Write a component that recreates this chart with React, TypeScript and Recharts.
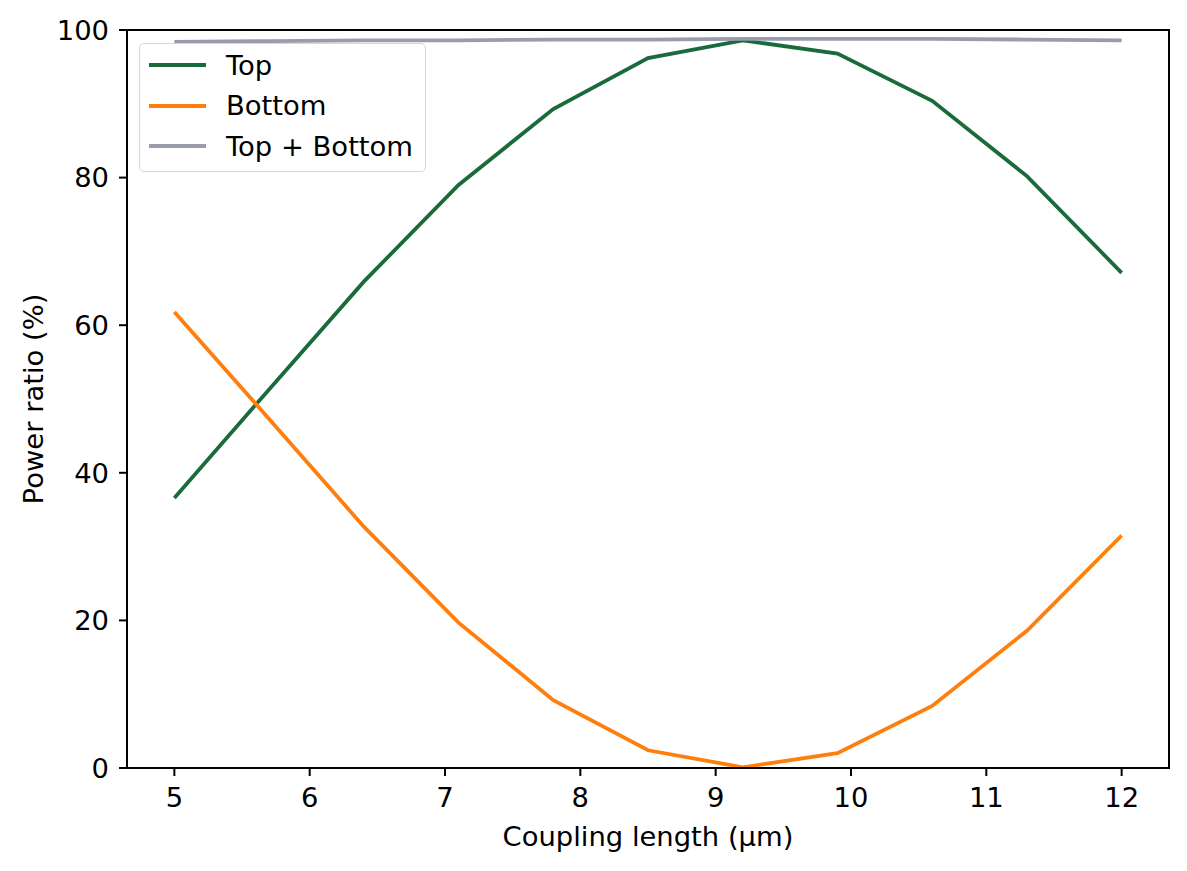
import { Legend, Line, LineChart, ReferenceArea, XAxis, YAxis } from "recharts";

const couplingLength = [5, 5.7, 6.4, 7.1, 7.8, 8.5, 9.2, 9.9, 10.6, 11.3, 12];
const topPower = [36.6, 51.3, 65.9, 79.0, 89.3, 96.2, 98.6, 96.8, 90.4, 80.2, 67.1];
const bottomPower = [61.8, 47.3, 32.7, 19.7, 9.2, 2.4, 0.1, 2.0, 8.4, 18.6, 31.5];
const sumPower = [98.4, 98.5, 98.6, 98.6, 98.7, 98.7, 98.8, 98.8, 98.8, 98.7, 98.6];
const xTicks = [5, 6, 7, 8, 9, 10, 11, 12];
const yTicks = [0, 20, 40, 60, 80, 100];
const xDomain = [4.65, 12.35];
const yDomain = [0, 100];

const data = couplingLength.map((x, i) => ({
  x,
  top: topPower[i],
  bottom: bottomPower[i],
  sum: sumPower[i],
}));

const FONT = "'DejaVu Sans', sans-serif";
const FONT_SIZE = 27.4;
const tickStyle = { fontSize: FONT_SIZE, fill: "#000", fontFamily: FONT };

const series = [
  { key: "top", name: "Top", color: "#1a6b3c" },
  { key: "bottom", name: "Bottom", color: "#ff7f0e" },
  { key: "sum", name: "Top + Bottom", color: "#999cab" },
];

function LegendBox() {
  return (
    <div
      style={{
        boxSizing: "border-box",
        width: 287,
        height: 129,
        border: "1.5px solid #d6d6d6",
        borderRadius: 5,
        background: "rgba(255,255,255,0.8)",
        fontFamily: FONT,
        fontSize: FONT_SIZE,
        paddingTop: 1,
      }}
    >
      {series.map((s) => (
        <div key={s.key} style={{ display: "flex", alignItems: "center", height: 40.5 }}>
          <div style={{ width: 57, height: 3.8, background: s.color, marginLeft: 9, marginRight: 20 }} />
          <span>{s.name}</span>
        </div>
      ))}
    </div>
  );
}

export default function App() {
  return (
    <div style={{ position: "absolute", left: 0, top: 0, background: "#fff" }}>
      <LineChart width={1187} height={871} data={data} margin={{ top: 30, right: 18, left: 0, bottom: 0 }}>
        <XAxis
          dataKey="x"
          type="number"
          domain={xDomain}
          ticks={xTicks}
          tickSize={8}
          tickMargin={12}
          tick={tickStyle}
          stroke="#000"
          strokeWidth={2}
          height={103}
          allowDataOverflow
          label={{
            value: "Coupling length (µm)",
            position: "insideBottom",
            offset: 25,
            style: { fontSize: FONT_SIZE, fill: "#000", fontFamily: FONT },
          }}
        />
        <YAxis
          type="number"
          domain={yDomain}
          ticks={yTicks}
          tickSize={8}
          tickMargin={10}
          tick={tickStyle}
          stroke="#000"
          strokeWidth={2}
          width={127}
          allowDataOverflow
          label={{
            value: "Power ratio (%)",
            angle: -90,
            position: "insideLeft",
            offset: 33,
            style: { fontSize: FONT_SIZE, fill: "#000", fontFamily: FONT, textAnchor: "middle" },
          }}
        />
        <ReferenceArea
          x1={xDomain[0]}
          x2={xDomain[1]}
          y1={yDomain[0]}
          y2={yDomain[1]}
          fill="none"
          stroke="#000"
          strokeWidth={2}
          ifOverflow="visible"
        />
        {series.map((s) => (
          <Line
            key={s.key}
            dataKey={s.key}
            name={s.name}
            type="linear"
            stroke={s.color}
            strokeWidth={3.8}
            dot={false}
            activeDot={false}
            isAnimationActive={false}
          />
        ))}
        <Legend
          layout="vertical"
          align="center"
          verticalAlign="middle"
          wrapperStyle={{ left: 139, top: 43, width: 287, height: 129 }}
          content={() => <LegendBox />}
        />
      </LineChart>
    </div>
  );
}
